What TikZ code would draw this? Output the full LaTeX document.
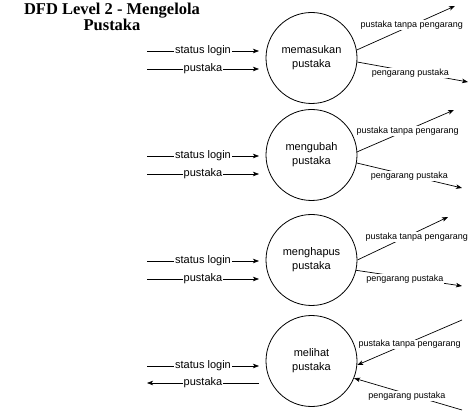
\documentclass[tikz,border=0pt]{standalone}
\usepackage{fontspec}
\setmainfont{Liberation Sans}
\newfontfamily\titlefont{Liberation Serif}
\usetikzlibrary{arrows.meta}
\begin{document}
\begin{tikzpicture}[x=1pt,y=-1pt,
  proc/.style={draw=black,line width=0.8pt,circle,minimum size=91pt,inner sep=0pt,
    align=center,font=\fontsize{11}{14}\selectfont},
  flow/.style={draw=black,line width=0.7pt,-{Stealth[length=6pt,width=4.5pt,inset=1.5pt]}},
  llab/.style={fill=white,inner sep=1pt,font=\fontsize{11}{13}\selectfont},
  rlab/.style={fill=white,inner sep=0.8pt,font=\fontsize{9}{11}\selectfont}]
\useasboundingbox (0,0) rectangle (476,419);
\fill[white] (0,0) rectangle (476,419);
% title
\node[align=center,font=\titlefont\bfseries\fontsize{16.5}{16}\selectfont] (title) at (112,17)
  {DFD Level 2 - Mengelola\\Pustaka};
% processes
\node[proc] (c1) at (311.5,58) {memasukan\\pustaka};
\node[proc] (c2) at (311.5,155) {mengubah\\pustaka};
\node[proc] (c3) at (311.5,260) {menghapus\\pustaka};
\node[proc] (c4) at (311.5,361) {melihat\\pustaka};
% left coordinates
\coordinate (s1a) at (147,51);  \coordinate (s1b) at (259,51);
\coordinate (p1a) at (147,69);  \coordinate (p1b) at (259,69);
\coordinate (s2a) at (147,156); \coordinate (s2b) at (259,156);
\coordinate (p2a) at (147,174); \coordinate (p2b) at (259,174);
\coordinate (s3a) at (147,261); \coordinate (s3b) at (259,261);
\coordinate (p3a) at (147,279); \coordinate (p3b) at (259,279);
\coordinate (s4a) at (147,366); \coordinate (s4b) at (259,366);
\coordinate (p4a) at (147,383); \coordinate (p4b) at (259,383);
% left flows
\draw[flow] (s1a) -- node[llab] {status login} (s1b);
\draw[flow] (p1a) -- node[llab] {pustaka} (p1b);
\draw[flow] (s2a) -- node[llab] {status login} (s2b);
\draw[flow] (p2a) -- node[llab] {pustaka} (p2b);
\draw[flow] (s3a) -- node[llab] {status login} (s3b);
\draw[flow] (p3a) -- node[llab] {pustaka} (p3b);
\draw[flow] (s4a) -- node[llab] {status login} (s4b);
\draw[flow] (p4b) -- node[llab] {pustaka} (p4a);
% right coordinates
\coordinate (t1u) at (455,6);   \coordinate (t1l) at (468,82);
\coordinate (t2u) at (454,110); \coordinate (t2l) at (462,188);
\coordinate (t3u) at (448,217); \coordinate (t3l) at (462,286);
\coordinate (t4u) at (462,320); \coordinate (t4l) at (462,410);
% right flows
\draw[flow] (c1.10) -- node[rlab,pos=0.56] {pustaka tanpa pengarang} (t1u);
\draw[flow] (c1.-5) -- node[rlab,pos=0.48,yshift=-1.5pt] {pengarang pustaka} (t1l);
\draw[flow] (c2.4) -- node[rlab,pos=0.52,yshift=-1pt] {pustaka tanpa pengarang} (t2u);
\draw[flow] (c2.-10) -- node[rlab,pos=0.5,yshift=-1pt] {pengarang pustaka} (t2l);
\draw[flow] (c3.0) -- node[rlab,pos=0.655,yshift=-5pt] {pustaka tanpa pengarang} (t3u);
\draw[flow] (c3.-13) -- node[rlab,pos=0.46,yshift=-1.5pt] {pengarang pustaka} (t3l);
\draw[flow] (t4u) -- node[rlab,pos=0.5,yshift=-2pt] {pustaka tanpa pengarang} (c4.-5);
\draw[flow] (t4l) -- node[rlab,pos=0.51,yshift=-2pt] {pengarang pustaka} (c4.-22);
\end{tikzpicture}
\end{document}
